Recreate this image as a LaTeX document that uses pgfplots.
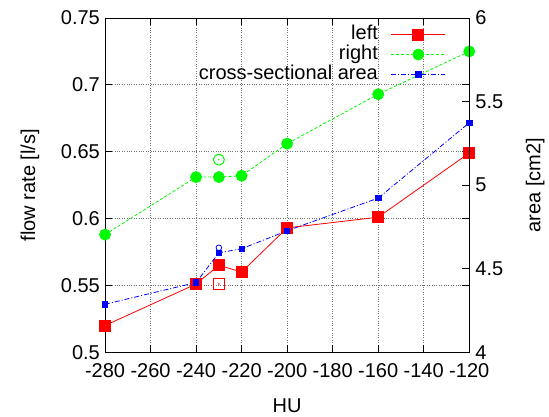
\documentclass[border=0pt]{standalone}
\usepackage{fontspec}
\setmainfont{Liberation Sans}
\usepackage{pgfplots}
\pgfplotsset{compat=1.18}
\usetikzlibrary{calc}
\definecolor{gpred}{RGB}{255,0,0}
\definecolor{gpgreen}{RGB}{0,250,0}
\definecolor{gpblue}{RGB}{0,0,255}
\newcommand{\fs}{\fontsize{20}{23}\selectfont}
\begin{document}
\begin{tikzpicture}
\pgfplotsset{
  common/.style={
    scale only axis, width=364pt, height=334pt,
    xmin=-280, xmax=-120,
    tick align=inside, major tick length=7pt,
    every tick/.style={black, line width=0.8pt},
    axis line style={black, line width=1pt},
    tick label style={font=\fs, inner sep=1pt},
    label style={font=\fs, inner sep=0pt},
    /pgf/number format/assume math mode=true,
    yticklabel style={/pgf/number format/fixed, /pgf/number format/precision=2},
    xticklabel style={/pgf/number format/fixed},
  },
}
\begin{axis}[common, name=ax,
  ymin=0.5, ymax=0.75,
  xtick={-280,-260,-240,-220,-200,-180,-160,-140,-120},
  ytick={0.5,0.55,0.6,0.65,0.7,0.75},
  grid=major,
  grid style={black!55, dotted, line width=0.7pt},
  xticklabel style={yshift=-10.5pt},
  yticklabel style={xshift=-4pt},
  xlabel={HU}, ylabel={flow rate [l/s]},
  every axis x label/.style={at={(rel axis cs:0.5,0)}, yshift=-53.5pt, anchor=center, font=\fs, inner sep=0pt},
  every axis y label/.style={at={(rel axis cs:0,0.5)}, xshift=-75pt, rotate=90, anchor=center, font=\fs, inner sep=0pt},
]
\addplot[gpred, line width=0.8pt, mark=square*, mark size=5.5pt, mark options={solid}]
  coordinates {(-280,0.520) (-240,0.551) (-230,0.565) (-220,0.560) (-200,0.593) (-160,0.601) (-120,0.649)};
\addplot[gpgreen, line width=0.8pt, dash pattern=on 3pt off 2pt, mark=*, mark size=5.5pt, mark options={solid}]
  coordinates {(-280,0.588) (-240,0.631) (-230,0.631) (-220,0.632) (-200,0.656) (-160,0.693) (-120,0.725)};
\addplot[only marks, color=gpred, line width=1pt, mark=square, mark size=5.5pt, mark options={draw=gpred, fill=none}]
  coordinates {(-230,0.551)};
\addplot[only marks, color=gpred, mark=*, mark size=0.5pt, mark options={draw=gpred, fill=gpred}]
  coordinates {(-230,0.551)};
\addplot[only marks, color=gpgreen, line width=1pt, mark=o, mark size=5.5pt, mark options={draw=gpgreen, fill=none}]
  coordinates {(-230,0.644)};
\addplot[only marks, color=gpgreen, mark=*, mark size=0.5pt, mark options={draw=gpgreen, fill=gpgreen}]
  coordinates {(-230,0.644)};
\end{axis}
\begin{axis}[common,
  ymin=4, ymax=6,
  axis x line=none, axis y line*=right,
  ytick={4,4.5,5,5.5,6},
  yticklabel style={xshift=6pt, inner sep=0pt},
  ylabel={area [cm2]},
  every axis y label/.style={at={(rel axis cs:1,0.5)}, xshift=66pt, rotate=90, anchor=center, font=\fs, inner sep=0pt},
  legend style={draw=none, fill=none, at={(rel axis cs:1,1)}, anchor=north east, xshift=-23.3pt, yshift=-7.3pt,
    font=\fs, inner sep=0pt, row sep=2pt, column sep=13pt,
    nodes={inner sep=0pt, text height=14pt, text depth=4pt}},
  legend cell align=right,
  legend plot pos=right,
  legend image code/.code={\draw[mark repeat=2, mark phase=2, #1] plot coordinates {(0pt,0pt) (27pt,0pt) (54pt,0pt)};},
]
\addlegendimage{gpred, line width=0.8pt, mark=square*, mark size=5.5pt, mark options={solid}}
\addlegendentry{left}
\addlegendimage{gpgreen, line width=0.8pt, dash pattern=on 3pt off 2pt, mark=*, mark size=5.5pt, mark options={solid}}
\addlegendentry{right}
\addplot[gpblue, line width=0.8pt, dash pattern=on 5pt off 2pt on 1pt off 2pt, mark=square*, mark size=2.7pt, mark options={solid}]
  coordinates {(-280,4.287) (-240,4.417) (-230,4.595) (-220,4.619) (-200,4.727) (-160,4.922) (-120,5.373)};
\addlegendentry{cross-sectional area}
\addplot[only marks, color=gpblue, line width=0.8pt, mark=o, mark size=2.8pt, mark options={draw=gpblue, fill=none}, forget plot]
  coordinates {(-230,4.625)};
\end{axis}
\pgfresetboundingbox
\useasboundingbox ($(ax.south west)+(-105pt,-64pt)$) rectangle ($(ax.north east)+(79.7pt,18pt)$);
\end{tikzpicture}
\end{document}
